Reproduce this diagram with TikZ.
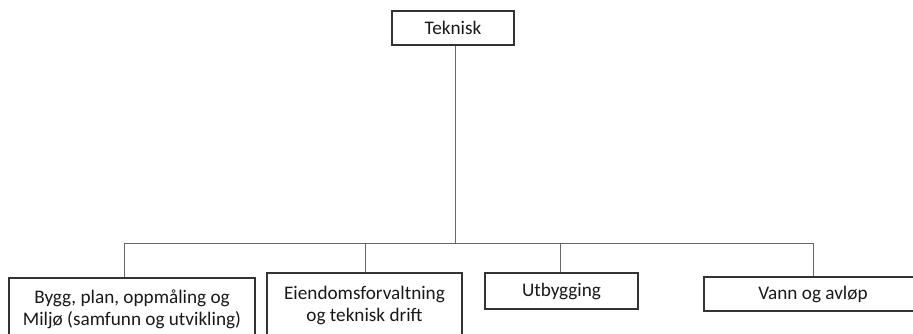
\documentclass[tikz,border=0pt]{standalone}
\usepackage{fontspec}
\setmainfont{Carlito}
\begin{document}
\begin{tikzpicture}[x=1pt,y=-1pt,
  box/.style={draw=black!80, line width=1.2pt, fill=white, inner sep=0pt, align=center,
    font=\fontsize{19.2}{22}\selectfont, text=black!90},
  conn/.style={draw=black!60, line width=0.9pt}]
\useasboundingbox (0,0) rectangle (913,333);
\node[box, minimum width=122, minimum height=34] (tek) at (453,28) {Teknisk};
\node[box, minimum width=246, minimum height=62] (b1) at (132,309) {Bygg, plan, oppmåling og\\Miljø (samfunn og utvikling)};
\node[box, minimum width=195, minimum height=65] (b2) at (364.5,305.5) {Eiendomsforvaltning\\og teknisk drift};
\node[box, minimum width=153, minimum height=36] (b3) at (561.5,291) {Utbygging};
\node[box, minimum width=218, minimum height=34] (b4) at (813,294) {Vann og avløp};
\coordinate (j0) at (455,243);
\coordinate (j1) at (124,243);
\coordinate (j2) at (365,243);
\coordinate (j3) at (560,243);
\coordinate (j4) at (813,243);
\draw[conn] (tek.south -| j0) -- (j0);
\draw[conn] (j1) -- (j4);
\draw[conn] (j1) -- (j1 |- b1.north);
\draw[conn] (j2) -- (j2 |- b2.north);
\draw[conn] (j3) -- (j3 |- b3.north);
\draw[conn] (j4) -- (j4 |- b4.north);
\end{tikzpicture}
\end{document}
